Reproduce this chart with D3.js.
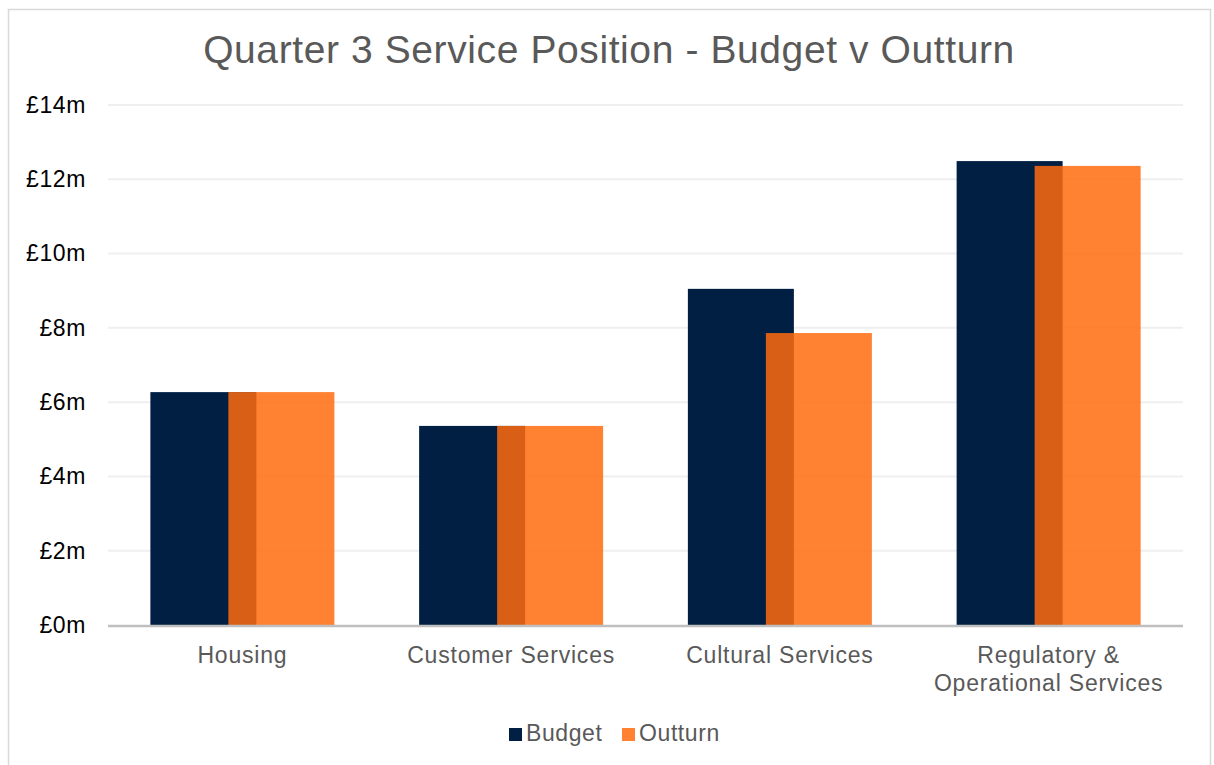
<!DOCTYPE html>
<html>
<head>
<meta charset="utf-8">
<script src="https://cdn.jsdelivr.net/npm/d3@7"></script>
<style>
  body { margin: 0; background: #fff; }
  svg { display: block; font-family: "Liberation Sans", Arial, sans-serif; }
</style>
</head>
<body>
<script>
// data
const categories = ["Housing", "Customer Services", "Cultural Services", "Regulatory & Operational Services"];
const budget = [6.27, 5.36, 9.05, 12.49];
const outturn = [6.27, 5.36, 7.86, 12.36];
const yTicks = [0, 2, 4, 6, 8, 10, 12, 14];
const seriesNames = ["Budget", "Outturn"];

// layout
const w = 1214, h = 765;
const plot = { left: 108, right: 1183, top: 105, bottom: 625 };

const svg = d3.select("body").append("svg").attr("width", w).attr("height", h);

// chart border
svg.append("rect")
  .attr("x", 8.5).attr("y", 9.5)
  .attr("width", 1202).attr("height", 770)
  .attr("fill", "#fff").attr("stroke", "#d9d9d9").attr("stroke-width", 1.5);

// title
svg.append("text")
  .attr("x", 609).attr("y", 63)
  .attr("text-anchor", "middle")
  .attr("font-size", 39)
  .attr("letter-spacing", 0.6)
  .attr("fill", "#595959")
  .text("Quarter 3 Service Position - Budget v Outturn");

// scales
const x = d3.scaleBand().domain(categories).range([plot.left, plot.right]);
const y = d3.scaleLinear().domain([0, 14]).range([plot.bottom, plot.top]);

// gridlines
svg.append("g")
  .selectAll("line")
  .data(yTicks.filter(d => d > 0))
  .join("line")
  .attr("x1", plot.left).attr("x2", plot.right)
  .attr("y1", d => y(d)).attr("y2", d => y(d))
  .attr("stroke", "#efefef").attr("stroke-width", 2);

// y axis labels
const yAxis = d3.axisLeft(y).tickValues(yTicks).tickSize(0).tickPadding(22)
  .tickFormat(d => `£${d}m`);
svg.append("g")
  .attr("transform", `translate(${plot.left}, 0)`)
  .call(yAxis)
  .call(g => g.select(".domain").remove())
  .call(g => g.selectAll("text")
    .attr("font-size", 23)
    .attr("letter-spacing", 0.6)
    .attr("font-family", "Liberation Sans, Arial, sans-serif")
    .attr("fill", "#000"));

// bars: budget then overlapping translucent outturn
const bw = 106;
const overlap = 28;
const groupW = 2 * bw - overlap;

svg.append("g")
  .selectAll("rect")
  .data(categories)
  .join("rect")
  .attr("x", d => x(d) + (x.bandwidth() - groupW) / 2)
  .attr("y", (d, i) => y(budget[i]))
  .attr("width", bw)
  .attr("height", (d, i) => y(0) - y(budget[i]))
  .attr("fill", "#001f43");

svg.append("g")
  .selectAll("rect")
  .data(categories)
  .join("rect")
  .attr("x", d => x(d) + (x.bandwidth() - groupW) / 2 + bw - overlap)
  .attr("y", (d, i) => y(outturn[i]))
  .attr("width", bw)
  .attr("height", (d, i) => y(0) - y(outturn[i]))
  .attr("fill", "rgb(255,107,14)")
  .attr("fill-opacity", 0.85);

// x axis line
svg.append("line")
  .attr("x1", plot.left).attr("x2", plot.right)
  .attr("y1", plot.bottom + 1).attr("y2", plot.bottom + 1)
  .attr("stroke", "#bfbfbf").attr("stroke-width", 2.5);

// x labels (wrap long one)
const xLabels = svg.append("g");
categories.forEach(c => {
  const lines = c === "Regulatory & Operational Services"
    ? ["Regulatory &", "Operational Services"] : [c];
  const t = xLabels.append("text")
    .attr("x", x(c) + x.bandwidth() / 2)
    .attr("y", 663)
    .attr("text-anchor", "middle")
    .attr("font-size", 23)
    .attr("letter-spacing", 0.8)
    .attr("fill", "#595959");
  lines.forEach((l, i) => {
    t.append("tspan").attr("x", x(c) + x.bandwidth() / 2).attr("dy", i ? 28 : 0).text(l);
  });
});

// legend
const legendColors = ["#001f43", "rgba(255,107,14,0.85)"];
const legendX = [509, 622];
const legend = svg.append("g");
seriesNames.forEach((s, i) => {
  legend.append("rect")
    .attr("x", legendX[i]).attr("y", 728)
    .attr("width", 13).attr("height", 13)
    .attr("fill", legendColors[i]);
  legend.append("text")
    .attr("x", legendX[i] + 17).attr("y", 741)
    .attr("font-size", 23)
    .attr("letter-spacing", 0.6)
    .attr("fill", "#595959")
    .text(s);
});
</script>
</body>
</html>
